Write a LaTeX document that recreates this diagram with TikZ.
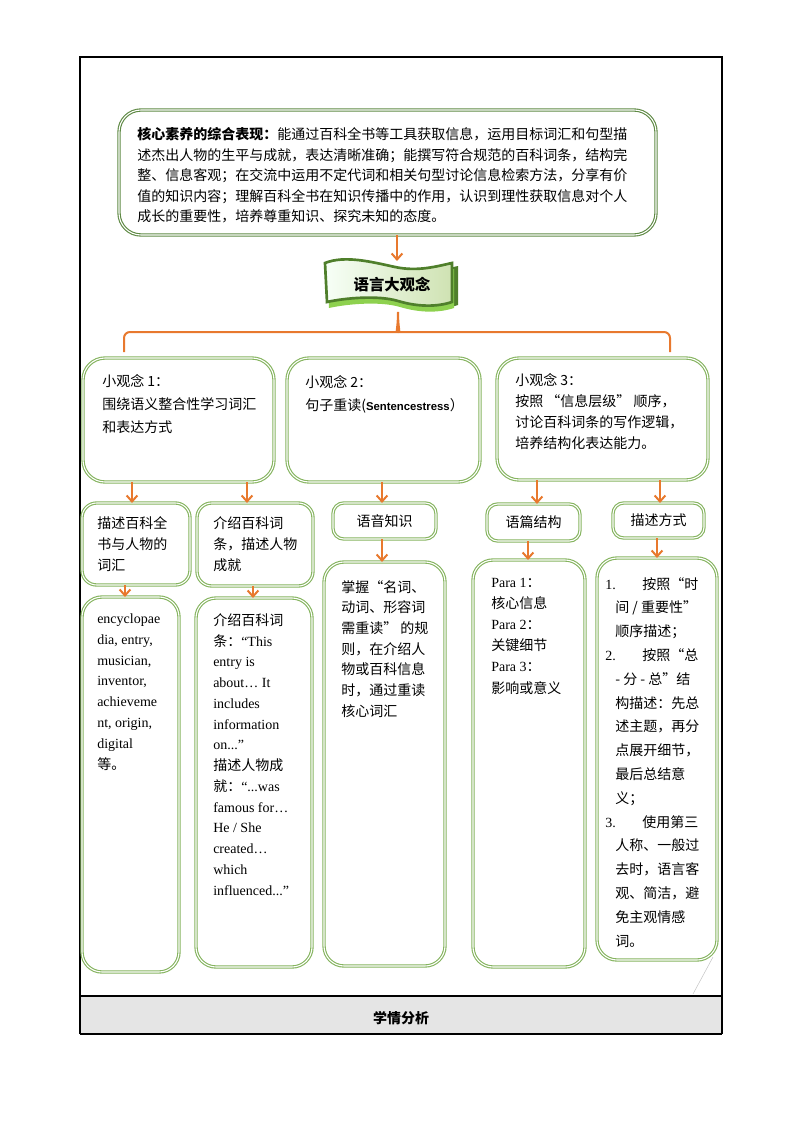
\documentclass[tikz,border=0pt]{standalone}
\usepackage{fontspec}
\setmainfont{Liberation Serif}
\newfontfamily\cjk{Noto Sans CJK SC}
\newfontfamily\cjkfw{Noto Sans CJK SC}[CharacterWidth=Full]
\newfontfamily\sansb{Liberation Sans}
\newcommand\zlq{{\cjkfw “}}
\newcommand\zrq{{\cjkfw ”}}
\usetikzlibrary{arrows.meta,fit}
\definecolor{orng}{HTML}{E8792E}
\definecolor{bgreen}{HTML}{86B460}
\definecolor{dgreen}{HTML}{5F8A45}
\definecolor{bannerdark}{HTML}{4F7F2B}
\definecolor{bannerlight}{HTML}{8ED14F}
\definecolor{bandgray}{HTML}{E5E5E5}
\begin{document}
\begin{tikzpicture}[x=0.75pt,y=-0.75pt,
  gbox/.style={draw=bgreen, double=white, double distance=0.8pt, line width=0.85pt,
               rounded corners=#1, inner sep=0pt, outer sep=0pt},
  gbox/.default=15pt,
  arr/.style={orng, line width=1.5pt, -{Straight Barb[length=4.5pt,width=8pt]}},
  txt/.style={anchor=base west, inner sep=0pt, align=left,
              font=\fontsize{10.5}{#1}\selectfont\cjk},
  txt/.default=15.5pt,
  lbl/.style={inner sep=0pt, font=\fontsize{10.5}{12}\selectfont\cjk},
]
\useasboundingbox (0,0) rectangle (794,1123);

% frame and bottom band
\fill[bandgray] (80,996) rectangle (722,1034);
\draw[black, line width=0.8pt] (80,1034) -- (80,57) -- (722,57) -- (722,1034);
\draw[black, line width=0.8pt] (80,996) -- (722,996);
\draw[black, line width=0.8pt] (80,1034) -- (722,1034);
\node[lbl, font=\fontsize{10.5}{12}\selectfont\cjk\bfseries] (band) at (401,1018) {学情分析};

% top box (text anchors are at the baseline of the LAST line)
\node[gbox=16.5pt, draw=dgreen, fit={(119,110) (656,235)}] (top) {};
\node[txt=15.4pt] (toptxt) at (137,222) {{\bfseries 核心素养的综合表现：}能通过百科全书等工具获取信息，运用目标词汇和句型描\\
述杰出人物的生平与成就，表达清晰准确；能撰写符合规范的百科词条，结构完\\
整、信息客观；在交流中运用不定代词和相关句型讨论信息检索方法，分享有价\\
值的知识内容；理解百科全书在知识传播中的作用，认识到理性获取信息对个人\\
成长的重要性，培养尊重知识、探究未知的态度。};

% banner
\def\bannerpath{(325,263) .. controls (345,255) and (372,262) .. (395,267) .. controls (418,272) and (438,266) .. (452,263) -- (452,302) .. controls (437,307) and (418,307) .. (398,301) .. controls (378,295) and (345,298) .. (327,302) -- cycle}
\fill[bannerdark, shift={(6,3)}] \bannerpath;
\fill[bannerlight, shift={(2,6)}] \bannerpath;
\shadedraw[left color=white!60!green!8, right color=green!25!olive!30, draw=bannerdark, line width=2pt] \bannerpath;
\node[lbl, font=\fontsize{11.5}{13}\selectfont\cjk\bfseries] (banner) at (392,285) {语言大观念};
\coordinate (bannertop) at (397,261);
\coordinate (bannerbot) at (398,312);

\draw[arr] (top.south -| bannertop) -- (bannertop);

% bracket
\draw[orng, line width=1.5pt, rounded corners=4.5pt] (bannerbot) .. controls (398,326) and (396,332) .. (391,332) -- (124,332) -- (124,352);
\draw[orng, line width=1.5pt, rounded corners=4.5pt] (bannerbot) .. controls (398,326) and (400,332) .. (405,332) -- (670,332) -- (670,352);

% row 1
\node[gbox=16.5pt, fit={(83,358) (274,482)}] (b1) {};
\node[gbox=16.5pt, fit={(287,358) (480,482)}] (b2) {};
\node[gbox=16.5pt, fit={(497,358) (708,480)}] (b3) {};
\node[txt=16.9pt] (b1t) at (102,432) {小观念 1：\\围绕语义整合性学习词汇\\和表达方式};
\node[txt=17pt] (b2t) at (305,410) {小观念 2：\\句子重读({\sansb\bfseries\fontsize{8.5}{10}\selectfont Sentencestress}）};
\node[txt=15.75pt] (b3t) at (515,448) {小观念 3：\\按照 \zlq 信息层级\zrq{} 顺序，\\讨论百科词条的写作逻辑，\\培养结构化表达能力。};

% row 2
\node[gbox=11pt, fit={(82,503) (190,585)}] (a2) {};
\node[gbox=11pt, fit={(197,503) (313,586)}] (bb2) {};
\node[gbox=8pt, fit={(333,503) (436,539)}] (c2) {};
\node[gbox=8pt, fit={(487,504) (580,541)}] (d2) {};
\node[gbox=8pt, fit={(613,503) (704,538)}] (e2) {};
\node[lbl] (c2t) at (c2.center) {语音知识};
\node[lbl] (d2t) at (d2.center) {语篇结构};
\node[lbl] (e2t) at (e2.center) {描述方式};
\node[txt=15.4pt] (a2t) at (97,570) {描述百科全\\书与人物的\\词汇};
\node[txt=15.4pt] (bb2t) at (213,570) {介绍百科词\\条，描述人物\\成就};

% row 3
\node[gbox=15pt, fit={(82,597) (179,972)}] (a3) {};
\node[gbox=15pt, fit={(196,598) (312,967)}] (bb3) {};
\node[gbox=15pt, fit={(324,562) (445,966)}] (c3) {};
\node[gbox=15pt, fit={(473,560) (585,967)}] (d3) {};
\node[gbox=15pt, fit={(597,558) (717,960)}] (e3) {};

\node[txt=15.6pt] (a3t) at (97,769) {{\rmfamily encyclopae}\\{\rmfamily dia, entry,}\\{\rmfamily musician,}\\{\rmfamily inventor,}\\{\rmfamily achieveme}\\{\rmfamily nt, origin,}\\{\rmfamily digital}\\等。};
\node[txt=15.55pt] (bb3t) at (213,895) {介绍百科词\\条：{\rmfamily “This}\\{\rmfamily entry is}\\{\rmfamily about… It}\\{\rmfamily includes}\\{\rmfamily information}\\{\rmfamily on...”}\\描述人物成\\就：{\rmfamily “...was}\\{\rmfamily famous for…}\\{\rmfamily He / She}\\{\rmfamily created…}\\{\rmfamily which}\\{\rmfamily influenced...”}};
\node[txt=15.5pt] (c3t) at (341,716) {掌握\zlq 名词、\\动词、形容词\\需重读\zrq{} 的规\\则，在介绍人\\物或百科信息\\时，通过重读\\核心词汇};
\node[txt=15.9pt] (d3t) at (491,693) {{\rmfamily Para 1}：\\核心信息\\{\rmfamily Para 2}：\\关键细节\\{\rmfamily Para 3}：\\影响或意义};
\node[txt=17.85pt] (e3t) at (605,946) {\makebox[27.75pt][l]{\rmfamily 1.}按照\zlq 时\\
\hspace*{7.5pt}间 / 重要性\zrq\\
\hspace*{7.5pt}顺序描述；\\
\makebox[27.75pt][l]{\rmfamily 2.}按照\zlq 总\\
\hspace*{7.5pt}- 分 - 总\zrq 结\\
\hspace*{7.5pt}构描述：先总\\
\hspace*{7.5pt}述主题，再分\\
\hspace*{7.5pt}点展开细节，\\
\hspace*{7.5pt}最后总结意\\
\hspace*{7.5pt}义；\\
\makebox[27.75pt][l]{\rmfamily 3.}使用第三\\
\hspace*{7.5pt}人称、一般过\\
\hspace*{7.5pt}去时，语言客\\
\hspace*{7.5pt}观、简洁，避\\
\hspace*{7.5pt}免主观情感\\
\hspace*{7.5pt}词。};

% arrows
\coordinate (xa2) at (132,0);
\coordinate (xb2) at (247,0);
\coordinate (xc2) at (382,0);
\coordinate (xd2) at (537,0);
\coordinate (xe2) at (660,0);
\coordinate (xa3) at (125,0);
\coordinate (xb3) at (253,0);
\coordinate (xc3) at (382,0);
\coordinate (xd3) at (528,0);
\coordinate (xe3) at (657,0);
\draw[arr] (b1.south -| xa2) -- (a2.north -| xa2);
\draw[arr] (b1.south -| xb2) -- (bb2.north -| xb2);
\draw[arr] (b2.south -| xc2) -- (c2.north -| xc2);
\draw[arr] (b3.south -| xd2) -- (d2.north -| xd2);
\draw[arr] (b3.south -| xe2) -- (e2.north -| xe2);
\draw[arr] (a2.south -| xa3) -- (a3.north -| xa3);
\draw[arr] (bb2.south -| xb3) -- (bb3.north -| xb3);
\draw[arr] (c2.south -| xc3) -- (c3.north -| xc3);
\draw[arr] (d2.south -| xd3) -- (d3.north -| xd3);
\draw[arr] (e2.south -| xe3) -- (e3.north -| xe3);

% faint pointer line
\coordinate (ptr) at (693,994);
\draw[gray!45, line width=0.4pt] (e3.south east) ++(-4,-3) -- (ptr);
\end{tikzpicture}
\end{document}
